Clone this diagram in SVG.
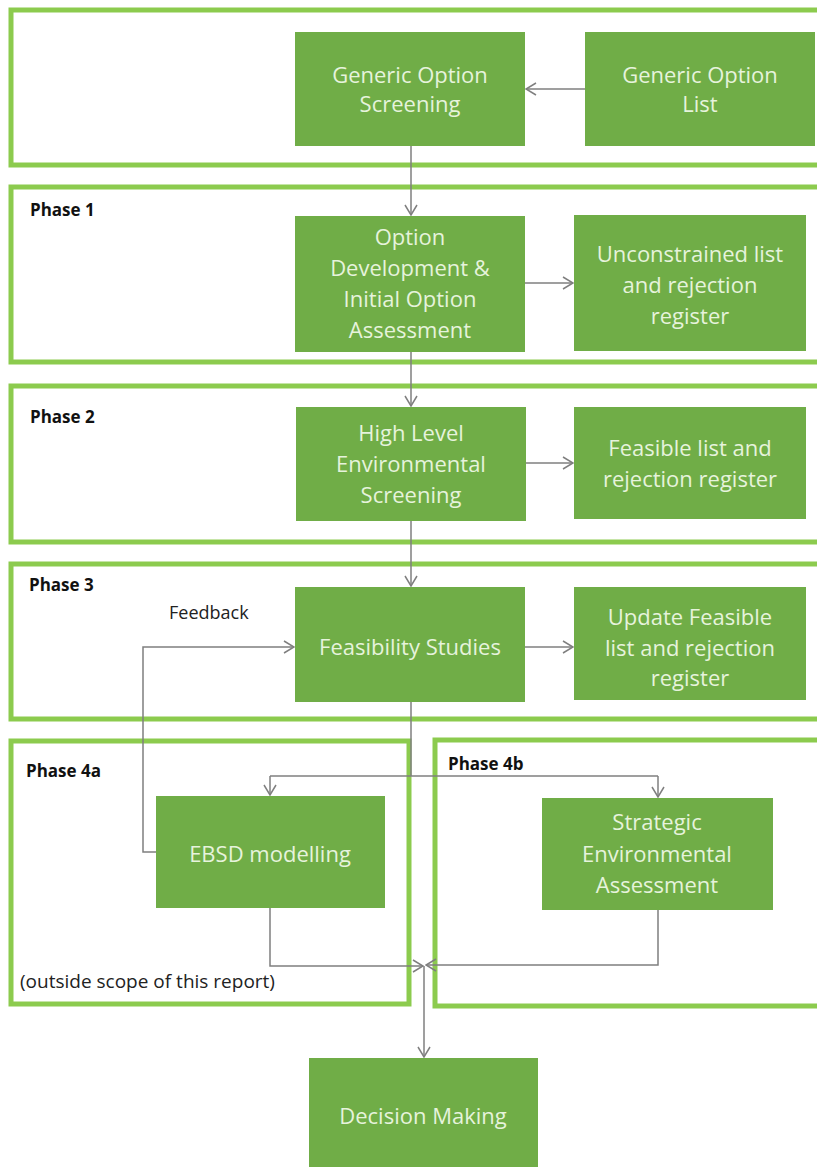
<svg xmlns="http://www.w3.org/2000/svg" width="817" height="1167" viewBox="0 0 817 1167">
<defs>
<style>
.frame{fill:none;stroke:#8CCB4E;stroke-width:5}
.box{fill:#70AD47}
.bt{font-family:"Open Sans","Liberation Sans",sans-serif;font-size:22px;fill:#E6F3DC;text-anchor:middle}
.ph{font-family:"Open Sans","Liberation Sans",sans-serif;font-size:17px;font-weight:bold;fill:#111}
.lbl{font-family:"Open Sans","Liberation Sans",sans-serif;fill:#222}
.ln{fill:none;stroke:#7F7F7F;stroke-width:1.5}
</style>
<marker id="ah" viewBox="0 0 12 14" refX="11" refY="7" markerWidth="12" markerHeight="14" markerUnits="userSpaceOnUse" orient="auto">
<path d="M1,1 L11,7 L1,13" fill="none" stroke="#7F7F7F" stroke-width="1.5"/>
</marker>
</defs>
<rect width="817" height="1167" fill="#FFFFFF"/>

<g id="frames">
<rect class="frame" x="11" y="10" width="830" height="155"/>
<rect class="frame" x="11" y="187" width="830" height="175"/>
<rect class="frame" x="11" y="386" width="830" height="156"/>
<rect class="frame" x="11" y="564" width="830" height="155"/>
<rect class="frame" x="11" y="741" width="398" height="263"/>
<rect class="frame" x="435" y="740" width="400" height="266"/>
<text class="ph" x="30" y="216">Phase 1</text>
<text class="ph" x="30" y="423">Phase 2</text>
<text class="ph" x="29" y="591">Phase 3</text>
<text class="ph" x="26" y="777">Phase 4a</text>
<text class="ph" x="448" y="770">Phase 4b</text>
<text class="lbl" x="169" y="619" font-size="18">Feedback</text>
<text class="lbl" x="20" y="988" font-size="19">(outside scope of this report)</text>
</g>

<g id="connectors">
<path class="ln" d="M585,89 H526" marker-end="url(#ah)"/>
<path class="ln" d="M411,146 V215" marker-end="url(#ah)"/>
<path class="ln" d="M525,283 H573" marker-end="url(#ah)"/>
<path class="ln" d="M411,352 V406" marker-end="url(#ah)"/>
<path class="ln" d="M526,463 H573" marker-end="url(#ah)"/>
<path class="ln" d="M411,521 V586" marker-end="url(#ah)"/>
<path class="ln" d="M525,647 H573" marker-end="url(#ah)"/>
<path class="ln" d="M156,852 H143 V647 H294" marker-end="url(#ah)"/>
<path class="ln" d="M411,702 V776"/>
<path class="ln" d="M270,776 H658"/>
<path class="ln" d="M270,776 V795" marker-end="url(#ah)"/>
<path class="ln" d="M658,776 V797" marker-end="url(#ah)"/>
<path class="ln" d="M270,908 V966 H423" marker-end="url(#ah)"/>
<path class="ln" d="M658,910 V965 H426" marker-end="url(#ah)"/>
<path class="ln" d="M424,966 V1057" marker-end="url(#ah)"/>
</g>

<g id="n-gos">
<rect class="box" x="295" y="32" width="230" height="114"/>
<text class="bt" x="410" y="83">Generic Option</text>
<text class="bt" x="410" y="112">Screening</text>
</g>
<g id="n-gol">
<rect class="box" x="585" y="32" width="230" height="114"/>
<text class="bt" x="700" y="83">Generic Option</text>
<text class="bt" x="700" y="112">List</text>
</g>
<g id="n-odev">
<rect class="box" x="295" y="216" width="230" height="136"/>
<text class="bt" x="410" y="245">Option</text>
<text class="bt" x="410" y="276">Development &amp;</text>
<text class="bt" x="410" y="307">Initial Option</text>
<text class="bt" x="410" y="338">Assessment</text>
</g>
<g id="n-uncon">
<rect class="box" x="574" y="215" width="232" height="136"/>
<text class="bt" x="690" y="262">Unconstrained list</text>
<text class="bt" x="690" y="293">and rejection</text>
<text class="bt" x="690" y="324">register</text>
</g>
<g id="n-hles">
<rect class="box" x="296" y="407" width="230" height="114"/>
<text class="bt" x="411" y="441">High Level</text>
<text class="bt" x="411" y="472">Environmental</text>
<text class="bt" x="411" y="503">Screening</text>
</g>
<g id="n-feas">
<rect class="box" x="574" y="407" width="232" height="112"/>
<text class="bt" x="690" y="456">Feasible list and</text>
<text class="bt" x="690" y="487">rejection register</text>
</g>
<g id="n-fs">
<rect class="box" x="295" y="587" width="230" height="115"/>
<text class="bt" x="410" y="655">Feasibility Studies</text>
</g>
<g id="n-upd">
<rect class="box" x="574" y="587" width="232" height="113"/>
<text class="bt" x="690" y="625">Update Feasible</text>
<text class="bt" x="690" y="656">list and rejection</text>
<text class="bt" x="690" y="686">register</text>
</g>
<g id="n-ebsd">
<rect class="box" x="156" y="796" width="229" height="112"/>
<text class="bt" x="270" y="862">EBSD modelling</text>
</g>
<g id="n-sea">
<rect class="box" x="542" y="798" width="231" height="112"/>
<text class="bt" x="657" y="830">Strategic</text>
<text class="bt" x="657" y="862">Environmental</text>
<text class="bt" x="657" y="893">Assessment</text>
</g>
<g id="n-dm">
<rect class="box" x="309" y="1058" width="229" height="120"/>
<text class="bt" x="423" y="1124">Decision Making</text>
</g>
</svg>
